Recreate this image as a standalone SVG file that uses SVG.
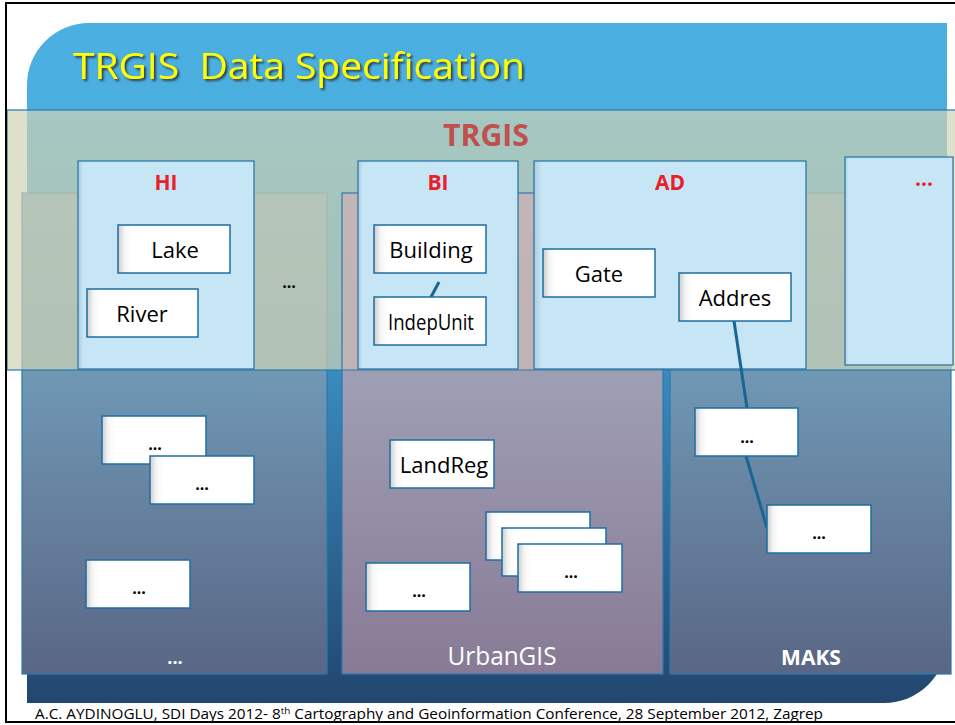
<svg xmlns="http://www.w3.org/2000/svg" width="955" height="725" viewBox="0 0 955 725">
<defs>
<linearGradient id="bgGrad" gradientUnits="userSpaceOnUse" x1="0" y1="23" x2="0" y2="703">
<stop offset="0" stop-color="#4BB0E1"/>
<stop offset="0.13" stop-color="#4AAEDF"/>
<stop offset="0.51" stop-color="#3A8BBE"/>
<stop offset="1" stop-color="#22466F"/>
</linearGradient>
<linearGradient id="blueGrad" x1="0" y1="0" x2="0" y2="1">
<stop offset="0" stop-color="#7CA5C2"/>
<stop offset="0.37" stop-color="#6F98B5"/>
<stop offset="1" stop-color="#5A6685"/>
</linearGradient>
<linearGradient id="mauveGrad" x1="0" y1="0" x2="0" y2="1">
<stop offset="0" stop-color="#C3B5B7"/>
<stop offset="0.366" stop-color="#C0B3B5"/>
<stop offset="0.37" stop-color="#9E9FB5"/>
<stop offset="1" stop-color="#887A95"/>
</linearGradient>
<linearGradient id="boxFill" x1="0" y1="0" x2="1" y2="0">
<stop offset="0" stop-color="#CCCCCC"/>
<stop offset="0.06" stop-color="#F6F6F6"/>
<stop offset="0.12" stop-color="#FFFFFF"/>
</linearGradient>
<linearGradient id="contFill" x1="0" y1="0" x2="1" y2="0">
<stop offset="0" stop-color="#AFCBDB"/>
<stop offset="0.03" stop-color="#C6E5F5"/>
</linearGradient>
<filter id="titleShadow" x="-5%" y="-20%" width="110%" height="150%">
<feDropShadow dx="2" dy="2" stdDeviation="0.8" flood-color="#2A2A2A" flood-opacity="0.85"/>
</filter>
</defs>
<style>
.panel{stroke:#2A7BAE;stroke-width:1.2}
.cont{fill:url(#contFill);stroke:#2371A2;stroke-width:1.2}
.box{fill:url(#boxFill);stroke:#1F6EA0;stroke-width:1.5}
.lbl{font-family:"Open Sans","DejaVu Sans",sans-serif;font-size:22px;fill:#000;text-anchor:middle}
.red{font-family:"Open Sans","DejaVu Sans",sans-serif;font-size:21px;font-weight:bold;fill:#E8202A;text-anchor:middle}
.dots{font-family:"Open Sans","DejaVu Sans",sans-serif;font-size:16px;font-weight:bold;fill:#000;text-anchor:middle}
.wdots{font-family:"Open Sans","DejaVu Sans",sans-serif;font-size:18px;font-weight:bold;fill:#FFFFFF;text-anchor:middle}
.conn{stroke:#1A6591;stroke-width:3;fill:none}
</style>

<!-- background -->
<rect x="0" y="0" width="955" height="725" fill="#FFFFFF"/>
<path d="M27,85 A62,62 0 0 1 89,23 L947,23 L947,640 A63,63 0 0 1 884,703 L27,703 Z" fill="url(#bgGrad)"/>

<!-- lower panels (left and right, under the band) -->
<g id="panel-left">
<rect class="panel" x="22" y="193" width="305" height="481" fill="url(#blueGrad)"/>
<text class="wdots" x="175" y="664">...</text>
</g>
<g id="panel-maks">
<rect class="panel" x="670" y="193" width="281" height="481" fill="url(#blueGrad)"/>
<text x="811" y="665" font-family="'Open Sans','DejaVu Sans',sans-serif" font-size="21" font-weight="bold" fill="#FFFFFF" text-anchor="middle">MAKS</text>
</g>

<!-- TRGIS band (semi-transparent) -->
<g id="trgis-band">
<rect x="7" y="110" width="955" height="260" fill="rgb(206,211,181)" fill-opacity="0.7" stroke="#2E78AA" stroke-width="1.2"/>
<text x="486" y="146" font-family="'Open Sans','DejaVu Sans',sans-serif" font-size="31" font-weight="bold" fill="#C0504D" text-anchor="middle" textLength="86" lengthAdjust="spacingAndGlyphs">TRGIS</text>
</g>

<!-- middle panel (above the band) -->
<g id="panel-urbangis">
<rect class="panel" x="342" y="193" width="321" height="481" fill="url(#mauveGrad)" stroke="#1F70A4"/>
<line x1="342" y1="370" x2="663" y2="370" stroke="#2E78AA" stroke-width="1.2"/>
<text x="502" y="665" font-family="'Open Sans','DejaVu Sans',sans-serif" font-size="25" fill="#FFFFFF" text-anchor="middle" textLength="109" lengthAdjust="spacingAndGlyphs">UrbanGIS</text>
</g>

<!-- title -->
<g id="title">
<text x="73" y="79" font-family="'Open Sans','DejaVu Sans',sans-serif" font-size="36" fill="#FFFF00" filter="url(#titleShadow)" style="white-space:pre" textLength="452" lengthAdjust="spacingAndGlyphs">TRGIS  Data Specification</text>
</g>

<!-- containers -->
<g id="HI">
<rect class="cont" x="78" y="161" width="176" height="208"/>
<text class="red" x="166" y="190">HI</text>
</g>
<g id="BI">
<rect class="cont" x="358" y="161" width="160" height="208"/>
<text class="red" x="438" y="190">BI</text>
</g>
<g id="AD">
<rect class="cont" x="534" y="161" width="272" height="208"/>
<text class="red" x="670" y="190">AD</text>
</g>
<g id="more">
<rect class="cont" x="845" y="157" width="108" height="208"/>
<text class="red" x="924" y="186" font-size="16">...</text>
</g>
<g id="dots-between">
<text class="dots" x="289" y="288">...</text>
</g>

<!-- connectors -->
<g id="connectors">
<line class="conn" x1="439" y1="282" x2="431" y2="297"/>
<line class="conn" x1="734" y1="321" x2="747" y2="408"/>
<line class="conn" x1="746" y1="456" x2="767" y2="528"/>
</g>

<!-- inner boxes -->
<g id="Lake"><rect class="box" x="118" y="225" width="112" height="48"/><text class="lbl" x="175" y="258">Lake</text></g>
<g id="River"><rect class="box" x="87" y="289" width="111" height="48"/><text class="lbl" x="142" y="322">River</text></g>
<g id="Building"><rect class="box" x="374" y="225" width="112" height="48"/><text class="lbl" x="431" y="258">Building</text></g>
<g id="IndepUnit"><rect class="box" x="374" y="297" width="112" height="48"/><text class="lbl" x="431" y="330" font-size="17" textLength="86" lengthAdjust="spacingAndGlyphs">IndepUnit</text></g>
<g id="Gate"><rect class="box" x="543" y="249" width="112" height="48"/><text class="lbl" x="599" y="282">Gate</text></g>
<g id="Addres"><rect class="box" x="679" y="273" width="112" height="48"/><text class="lbl" x="735" y="306">Addres</text></g>

<g id="L1"><rect class="box" x="102" y="416" width="104" height="48"/><text class="dots" x="155" y="450">...</text></g>
<g id="L2"><rect class="box" x="150" y="456" width="104" height="48"/><text class="dots" x="202" y="490">...</text></g>
<g id="L3"><rect class="box" x="86" y="560" width="104" height="48"/><text class="dots" x="139" y="594">...</text></g>

<g id="LandReg"><rect class="box" x="390" y="440" width="104" height="48"/><text class="lbl" x="444" y="473" font-size="19">LandReg</text></g>
<g id="U1"><rect class="box" x="486" y="512" width="104" height="48"/></g>
<g id="U2"><rect class="box" x="502" y="528" width="104" height="48"/></g>
<g id="U3"><rect class="box" x="518" y="544" width="104" height="48"/><text class="dots" x="571" y="578">...</text></g>
<g id="U4"><rect class="box" x="366" y="563" width="104" height="48"/><text class="dots" x="419" y="597">...</text></g>

<g id="M1"><rect class="box" x="695" y="408" width="103" height="48"/><text class="dots" x="747" y="443">...</text></g>
<g id="M2"><rect class="box" x="767" y="505" width="104" height="48"/><text class="dots" x="819" y="539">...</text></g>

<!-- footer -->
<g id="footer">
<text x="35" y="719" font-family="'Open Sans','DejaVu Sans',sans-serif" font-size="14" fill="#000" textLength="788" lengthAdjust="spacingAndGlyphs">A.C. AYDINOGLU, SDI Days 2012- 8<tspan font-size="9" dy="-5">th</tspan><tspan dy="5"> Cartography and Geoinformation Conference, 28 September 2012, Zagrep</tspan></text>
</g>

<!-- frame -->
<rect x="6" y="3" width="965" height="719" fill="none" stroke="#000" stroke-width="2"/>
</svg>
